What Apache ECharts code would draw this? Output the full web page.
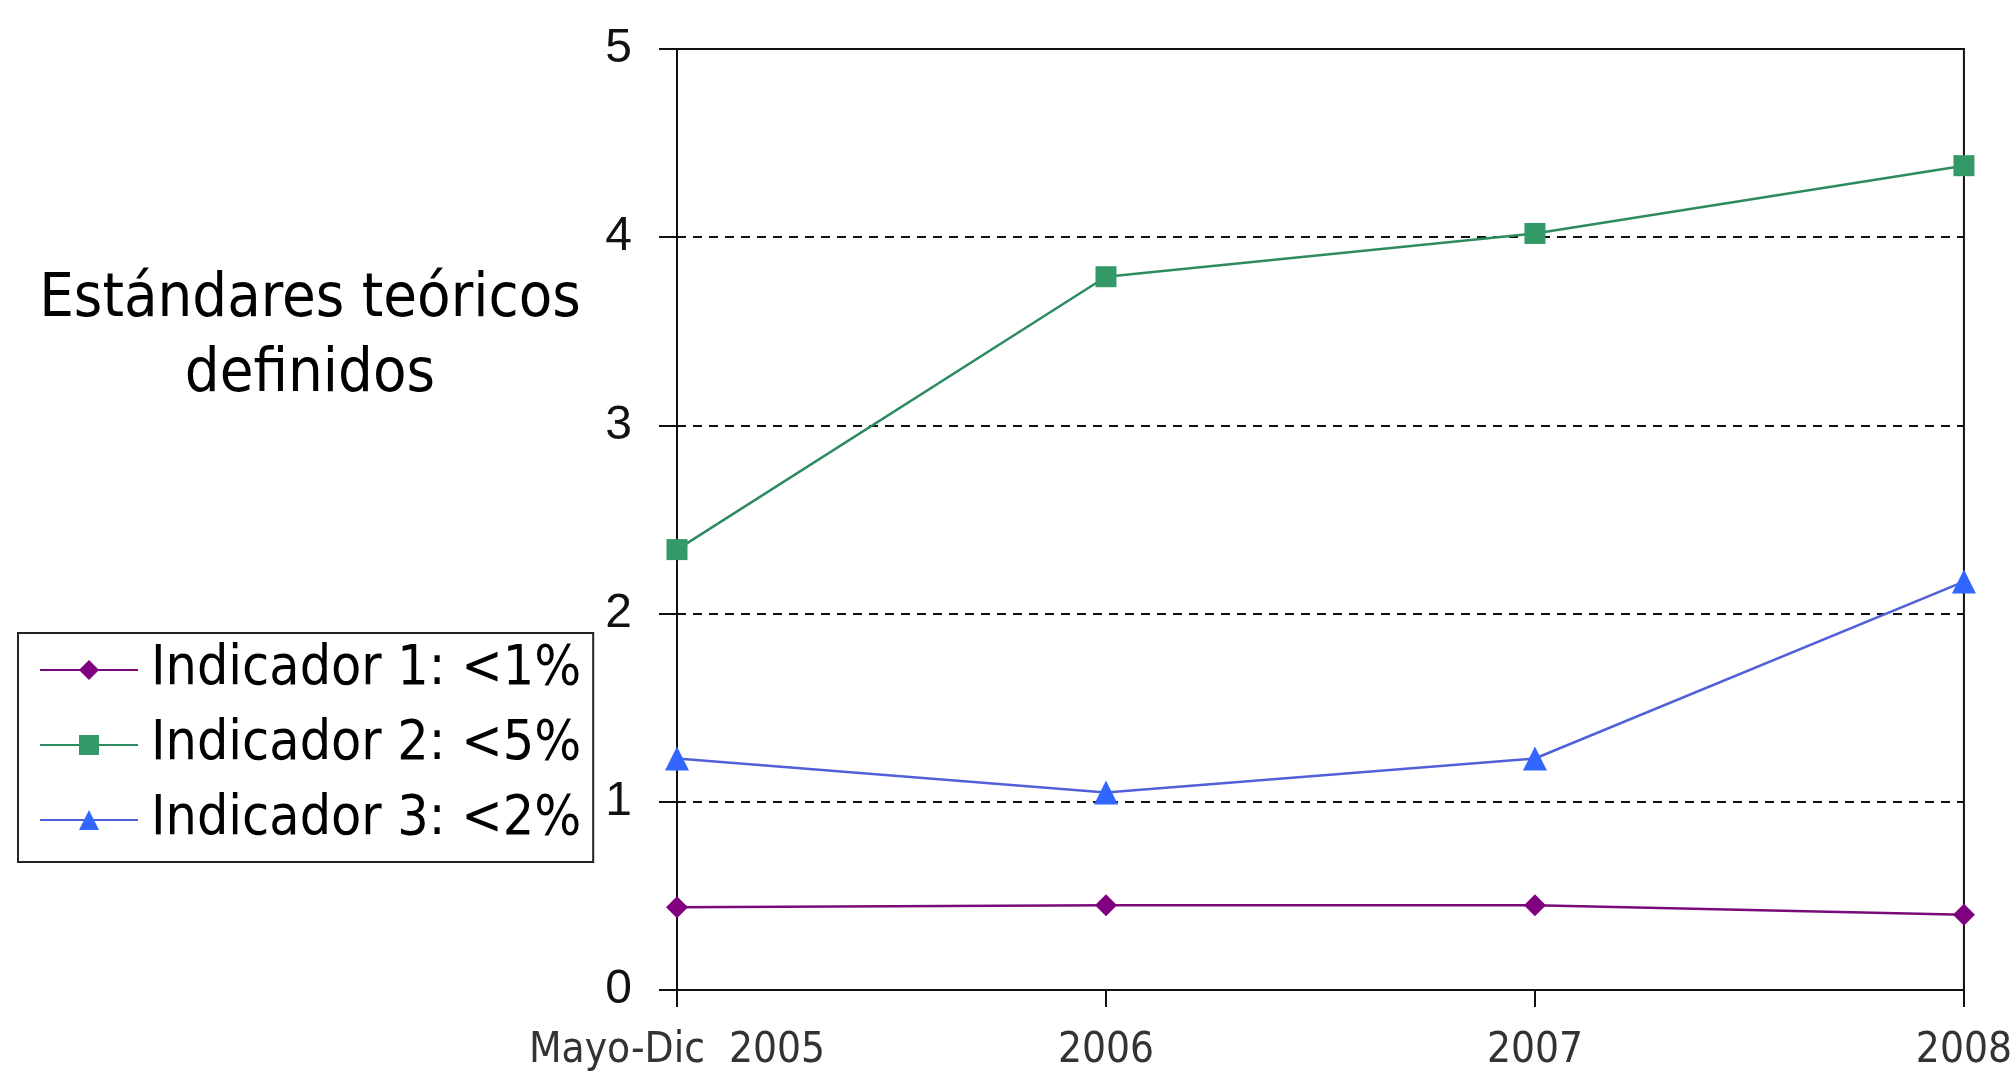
<!DOCTYPE html>
<html>
<head>
<meta charset="utf-8">
<script src="https://cdn.jsdelivr.net/npm/echarts@6/dist/echarts.min.js"></script>
<style>
html,body{margin:0;padding:0;background:#fff;}
#chart{width:2015px;height:1074px;}
</style>
</head>
<body>
<div id="chart"></div>
<script>
const categories = ['Mayo-Dic  2005', '2006', '2007', '2008'];
const seriesNames = ['Indicador 1: <1%', 'Indicador 2: <5%', 'Indicador 3: <2%'];
const indicador1 = [0.44, 0.45, 0.45, 0.40];
const indicador2 = [2.34, 3.79, 4.02, 4.38];
const indicador3 = [1.23, 1.05, 1.23, 2.17];
const yTicks = [0, 1, 2, 3, 4, 5];
const titleText = 'Estándares teóricos\ndefinidos';

const chart = echarts.init(document.getElementById('chart'));
const condensed = "'DejaVu Sans Condensed', 'DejaVu Sans', sans-serif";
chart.setOption({
  backgroundColor: '#ffffff',
  animation: false,
  title: {
    text: titleText,
    left: 305,
    top: 258,
    textAlign: 'center',
    textStyle: {
      fontFamily: condensed,
      fontSize: 61,
      fontWeight: 'normal',
      color: '#000',
      lineHeight: 75,
      align: 'center'
    }
  },
  legend: {
    orient: 'vertical',
    left: 18,
    top: 633,
    padding: [7, 12, 12, 21],
    itemGap: 15,
    itemWidth: 98,
    itemHeight: 25,
    borderColor: '#222',
    borderWidth: 2,
    data: seriesNames,
    textStyle: {
      fontFamily: condensed,
      fontSize: 55,
      color: '#000',
      lineHeight: 60,
      padding: [0, 0, 0, 8]
    }
  },
  grid: {
    left: 677,
    right: 47,
    top: 49,
    bottom: 84,
    show: true,
    borderColor: '#111',
    borderWidth: 2,
    backgroundColor: 'transparent'
  },
  xAxis: {
    type: 'category',
    data: categories,
    boundaryGap: false,
    axisLine: { show: true, lineStyle: { color: '#111', width: 2 } },
    axisTick: { show: true, alignWithLabel: true, length: 17, lineStyle: { color: '#111', width: 2 } },
    axisLabel: {
      margin: 40,
      fontFamily: condensed,
      fontSize: 42,
      color: '#333'
    },
    splitLine: { show: false }
  },
  yAxis: {
    type: 'value',
    min: yTicks[0],
    max: yTicks[yTicks.length - 1],
    interval: 1,
    axisLine: { show: true, lineStyle: { color: '#111', width: 2 } },
    axisTick: { show: true, length: 18, lineStyle: { color: '#111', width: 2 } },
    axisLabel: {
      margin: 45,
      fontFamily: "'Liberation Sans', Arial, sans-serif",
      fontSize: 48,
      color: '#111'
    },
    splitLine: { show: true, lineStyle: { color: '#111', width: 2, type: [9, 7] } }
  },
  series: [
    {
      name: seriesNames[0],
      type: 'line',
      data: indicador1,
      symbol: 'diamond',
      symbolSize: 22,
      lineStyle: { color: '#7a0a7a', width: 2.5 },
      itemStyle: { color: '#800080' }
    },
    {
      name: seriesNames[1],
      type: 'line',
      data: indicador2,
      symbol: 'rect',
      symbolSize: 21,
      lineStyle: { color: '#2e8b5f', width: 2.5 },
      itemStyle: { color: '#339966' }
    },
    {
      name: seriesNames[2],
      type: 'line',
      data: indicador3,
      symbol: 'triangle',
      symbolSize: 24,
      lineStyle: { color: '#5060d8', width: 2.5 },
      itemStyle: { color: '#3366ff' }
    }
  ]
});
</script>
</body>
</html>
